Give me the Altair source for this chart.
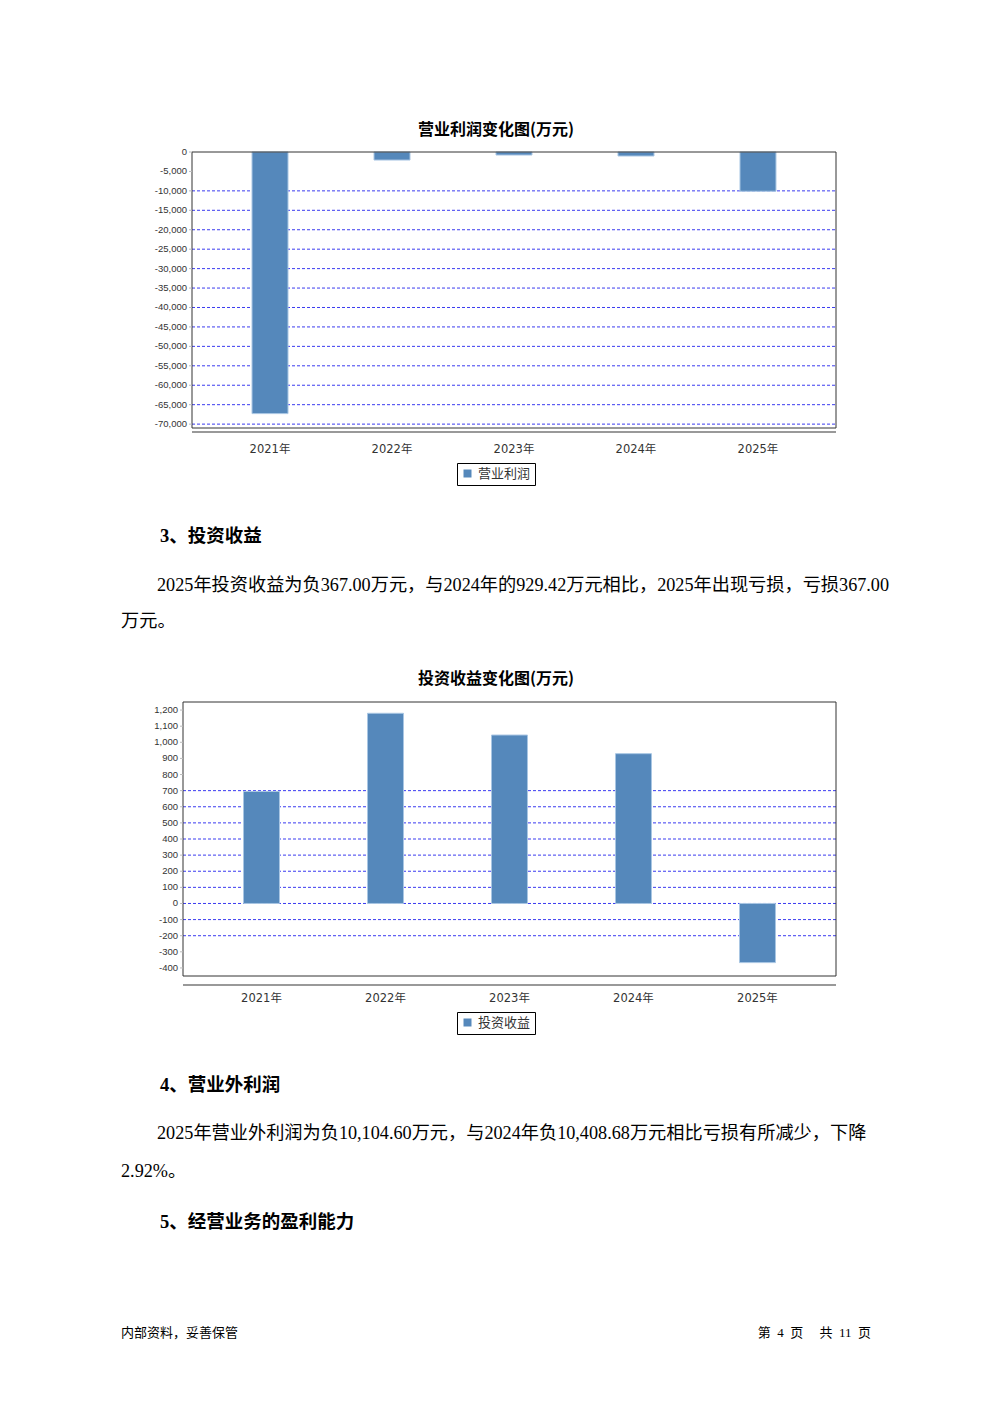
import altair as alt
import pandas as pd

# ---------------- data ----------------
years = ["2021年", "2022年", "2023年", "2024年", "2025年"]
op_profit = [-67300, -2070, -780, -1030, -10100]          # 营业利润 (万元)
inv_income = [695, 1180, 1045, 929.42, -367.00]           # 投资收益 (万元)

ticks1 = [0, -5000, -10000, -15000, -20000, -25000, -30000, -35000,
          -40000, -45000, -50000, -55000, -60000, -65000, -70000]
grid1 = [-10000, -15000, -20000, -25000, -30000, -35000, -40000,
         -45000, -50000, -55000, -60000, -65000, -70000]
ticks2 = [1200, 1100, 1000, 900, 800, 700, 600, 500, 400, 300, 200, 100,
          0, -100, -200, -300, -400]
grid2 = [700, 600, 500, 400, 300, 200, 100, 0, -100, -200]

title1 = "营业利润变化图(万元)"
title2 = "投资收益变化图(万元)"
series1 = "营业利润"
series2 = "投资收益"

head3 = "3、投资收益"
para3 = ["2025年投资收益为负367.00万元，与2024年的929.42万元相比，2025年出现亏损，亏损367.00",
         "万元。"]
head4 = "4、营业外利润"
para4 = ["2025年营业外利润为负10,104.60万元，与2024年负10,408.68万元相比亏损有所减少，下降",
         "2.92%。"]
head5 = "5、经营业务的盈利能力"
footer_left = "内部资料，妥善保管"
footer_right = "第\u20024\u2002页\u2002\u2002\u00a0共\u200211\u2002页"

# ---------------- styles ----------------
BAR = "#5588bb"
GRID = "#3b3bf0"
FRAME = "#333333"
AXF = "DejaVu Sans, Noto Sans CJK SC"
BODYF = "Liberation Serif, Noto Sans CJK SC"
BOLDF = "Liberation Serif, Noto Sans CJK SC"


def one():
    return alt.Data(values=[{"a": 1}])


def txt(s, x, y, size, bold=False, align="left", font=BODYF, color="black"):
    return alt.Chart(one()).mark_text(
        text=s, align=align, baseline="middle", fontSize=size,
        fontWeight="bold" if bold else "normal", font=font, color=color
    ).encode(x=alt.value(x), y=alt.value(y))


def bar_panel(values, series, title, ticks, grid, xr, yr, ydom, pin, pout,
              title_y, xaxis_y, xlabel_y, legend_xy):
    df = pd.DataFrame({"year": years, "value": values, "series": series})
    xs = alt.Scale(domain=years, range=xr, paddingInner=pin, paddingOuter=pout)
    ys = alt.Scale(domain=ydom, range=yr, nice=False, zero=False)
    X = alt.X("year:N", scale=xs, axis=None, sort=years)

    gdf = pd.DataFrame({"v": grid})
    tdf = pd.DataFrame({"v": ticks, "lab": [f"{t:,}" for t in ticks]})

    gridl = alt.Chart(gdf).mark_rule(color=GRID, strokeDash=[3, 2], strokeWidth=1).encode(
        y=alt.Y("v:Q", scale=ys, axis=None), x=alt.value(xr[0]), x2=alt.value(xr[1]))
    bars = alt.Chart(df).mark_bar(stroke="#a9c6e3", strokeWidth=1).encode(
        x=X,
        y=alt.Y("value:Q", scale=ys, axis=None),
        y2=alt.datum(0),
        color=alt.Color("series:N", scale=alt.Scale(range=[BAR]),
                        legend=alt.Legend(orient="none", legendX=legend_xy[0], legendY=legend_xy[1],
                                          title=None, strokeColor="black", fillColor="white",
                                          padding=4, symbolType="square", symbolSize=64,
                                          symbolStrokeWidth=0, labelFontSize=13, labelFont=AXF,
                                          labelColor="#333333")))
    frame = alt.Chart(one()).mark_rect(fill=None, stroke=FRAME, strokeWidth=1).encode(
        x=alt.value(xr[0]), x2=alt.value(xr[1]), y=alt.value(yr[1]), y2=alt.value(yr[0]))
    tickm = alt.Chart(tdf).mark_rule(color="#bbbbbb").encode(
        y=alt.Y("v:Q", scale=ys, axis=None), x=alt.value(xr[0] - 3), x2=alt.value(xr[0]))
    tlab = alt.Chart(tdf).mark_text(align="right", baseline="middle", fontSize=9.5,
                                    font="Liberation Sans", color="#333333").encode(
        y=alt.Y("v:Q", scale=ys, axis=None), x=alt.value(xr[0] - 5), text="lab:N")
    xline = alt.Chart(one()).mark_rule(color="#999999", strokeWidth=2).encode(
        x=alt.value(xr[0]), x2=alt.value(xr[1]), y=alt.value(xaxis_y))
    xlab = alt.Chart(df).mark_text(baseline="middle", fontSize=11.5, font=AXF,
                                   color="#333333").encode(
        x=X, y=alt.value(xlabel_y), text="year:N")
    ttl = txt(title, 488, title_y, 16, bold=True, align="center", font="Noto Sans CJK SC")
    return alt.layer(gridl, bars, frame, tickm, tlab, xline, xlab, ttl)


chart1 = bar_panel(op_profit, series1, title1, ticks1, grid1,
                   xr=[184, 828], yr=[420, 144], ydom=[-71000, 0],
                   pin=0.705, pout=0.492, title_y=122, xaxis_y=424, xlabel_y=442,
                   legend_xy=(449, 455))
chart2 = bar_panel(inv_income, series2, title2, ticks2, grid2,
                   xr=[175, 828], yr=[968, 694], ydom=[-450, 1250],
                   pin=0.7097, pout=0.488, title_y=671, xaxis_y=977, xlabel_y=991,
                   legend_xy=(449, 1004))

texts = [
    txt(head3, 152, 528, 18.5, bold=True, font=BOLDF),
    txt(para3[0], 149, 578, 18.2),
    txt(para3[1], 113, 614, 18.2),
    txt(head4, 152, 1077, 18.5, bold=True, font=BOLDF),
    txt(para4[0], 149, 1126, 18.2),
    txt(para4[1], 113, 1164, 18.2),
    txt(head5, 152, 1214, 18.5, bold=True, font=BOLDF),
    txt(footer_left, 113, 1325, 13, font="Noto Sans CJK SC"),
    txt(footer_right, 863, 1325, 13, align="right", font="Liberation Serif, Noto Sans CJK SC"),
]

chart = alt.layer(chart1, chart2, *texts).resolve_scale(
    x="independent", y="independent", color="independent"
).properties(
    width=976, height=1387, padding=0, background="white",
    autosize=alt.AutoSizeParams(type="none")
).configure_view(stroke=None)

chart.save("out.html", embed_options={"renderer": "svg", "actions": False})
